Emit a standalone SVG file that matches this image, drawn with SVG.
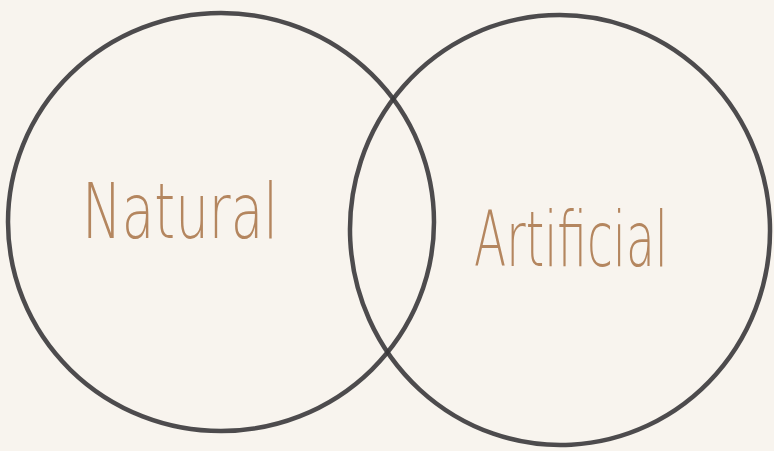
<svg xmlns="http://www.w3.org/2000/svg" width="774" height="451" viewBox="0 0 774 451">
<style>
.c{fill:none;stroke:#3a383b;stroke-width:4.5;stroke-opacity:0.9}
.t{font-family:"DejaVu Sans","Liberation Sans",sans-serif;font-weight:200;fill:#b4865f;font-size:76px}
</style>
<rect width="774" height="451" fill="#f8f4ee"/>
<g id="connectors"></g>
<g id="natural">
<ellipse class="c" cx="221" cy="222" rx="213" ry="209"/>
<text class="t" transform="translate(180 238) scale(0.7 1)" text-anchor="middle">Natural</text>
</g>
<g id="artificial">
<ellipse class="c" cx="560" cy="230" rx="210" ry="215" transform="rotate(-3 560 230)"/>
<text class="t" transform="translate(571 266) scale(0.62 1)" text-anchor="middle">Artificial</text>
</g>
</svg>
